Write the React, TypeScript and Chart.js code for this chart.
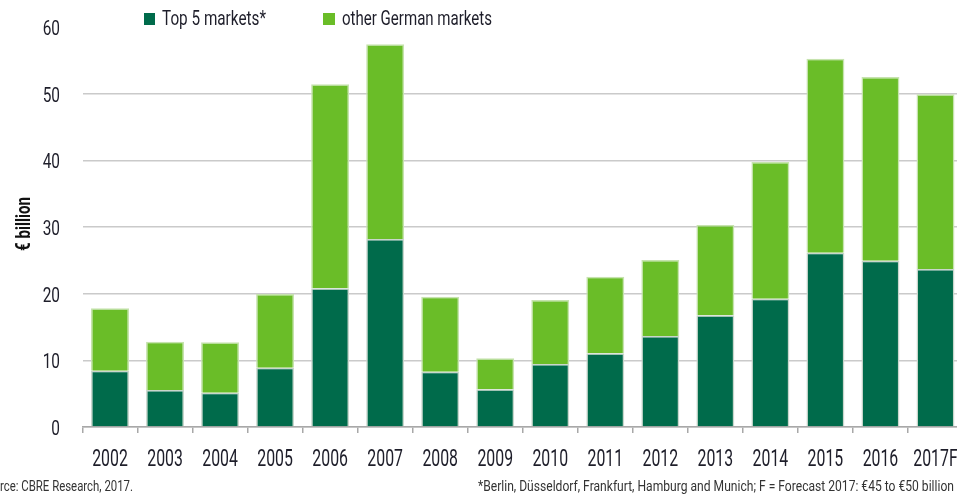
import React, { useEffect, useRef } from "react";
import { Chart, registerables } from "chart.js";

Chart.register(...registerables);

const categories = ["2002", "2003", "2004", "2005", "2006", "2007", "2008", "2009", "2010", "2011", "2012", "2013", "2014", "2015", "2016", "2017F"];
const top5Markets = [8.45, 5.55, 5.15, 8.9, 20.8, 28.2, 8.3, 5.65, 9.45, 11.05, 13.65, 16.75, 19.25, 26.15, 24.95, 23.7];
const otherGermanMarkets = [9.35, 7.25, 7.55, 11.05, 30.6, 29.2, 11.25, 4.65, 9.6, 11.5, 11.4, 13.55, 20.5, 29.1, 27.55, 26.2];
const yTicks = [0, 10, 20, 30, 40, 50, 60];
const seriesLabels = ["Top 5 markets*", "other German markets"];
const yTitle = "€ billion";
const sourceText = "Source: CBRE Research, 2017.";
const sourceVisible = "rce: CBRE Research, 2017.";
const footnoteText = "*Berlin, Düsseldorf, Frankfurt, Hamburg and Munich; F = Forecast 2017: €45 to €50 billion";

const FONT = "Roboto, 'DejaVu Sans', sans-serif";
const DARK = "#006b4b";
const LIGHT = "#6abd28";
const TEXT = "#1e1e2a";

function condensedText(ctx: any, text: string, x: number, y: number, factor: number) {
  const w = ctx.measureText(text).width;
  ctx.fillText(text, x, y, w * factor);
}

const decorPlugin = {
  id: "decor",
  afterDraw(chart: any) {
    const ctx = chart.ctx;
    const area = chart.chartArea;
    const xs = chart.scales.x;
    const ys = chart.scales.y;
    ctx.save();

    // x tick labels (condensed, placed by the category scale)
    ctx.font = `23px ${FONT}`;
    ctx.fillStyle = TEXT;
    ctx.textAlign = "center";
    ctx.textBaseline = "alphabetic";
    const xFactor = 35.6 / ctx.measureText("2002").width;
    xs.ticks.forEach((t: any, i: number) => {
      const label = String(xs.getLabelForValue(t.value));
      condensedText(ctx, label, xs.getPixelForTick(i), 466, xFactor);
    });

    // y tick labels (condensed, placed by the linear scale)
    ctx.font = `21px ${FONT}`;
    ctx.textAlign = "right";
    const yFactor = 17.3 / ctx.measureText("50").width;
    ys.ticks.forEach((t: any) => {
      condensedText(ctx, String(t.value), 60, ys.getPixelForValue(t.value) + 8, yFactor);
    });

    // legend
    ctx.textBaseline = "alphabetic";
    ctx.textAlign = "left";
    ctx.font = `20px ${FONT}`;
    ctx.fillStyle = DARK;
    ctx.fillRect(144, 13, 11, 12);
    ctx.fillStyle = TEXT;
    ctx.fillText(seriesLabels[0], 162, 25, 104);
    ctx.fillStyle = LIGHT;
    ctx.fillRect(323, 13, 12, 12);
    ctx.fillStyle = TEXT;
    ctx.fillText(seriesLabels[1], 342, 25, 150);

    // y title
    ctx.save();
    ctx.translate(30, (area.top + area.bottom) / 2 - 3);
    ctx.rotate(-Math.PI / 2);
    ctx.textAlign = "center";
    ctx.textBaseline = "alphabetic";
    ctx.font = `bold 20px ${FONT}`;
    ctx.fillStyle = "#111";
    ctx.fillText(yTitle, 0, 0, 54);
    ctx.restore();

    // footer
    ctx.font = `15px ${FONT}`;
    ctx.fillStyle = "#333";
    ctx.textBaseline = "alphabetic";
    ctx.textAlign = "right";
    const fFactor = 476 / ctx.measureText(footnoteText).width;
    condensedText(ctx, footnoteText, 954, 491, fFactor);
    const sFactor = 133 / ctx.measureText(sourceVisible).width;
    condensedText(ctx, sourceText, 133, 491, sFactor);
    ctx.restore();
  },
};

export default function App() {
  const ref = useRef<HTMLCanvasElement | null>(null);

  useEffect(() => {
    if (!ref.current) return;
    const chart = new Chart(ref.current, {
      type: "bar",
      data: {
        labels: categories,
        datasets: [
          {
            label: seriesLabels[0],
            data: top5Markets,
            backgroundColor: DARK,
            borderColor: "#c9d6cc",
            borderWidth: 1.5,
            barPercentage: 0.69,
            categoryPercentage: 1,
          },
          {
            label: seriesLabels[1],
            data: otherGermanMarkets,
            backgroundColor: LIGHT,
            borderColor: "#c6e3ae",
            borderWidth: 1.5,
            barPercentage: 0.69,
            categoryPercentage: 1,
          },
        ],
      },
      options: {
        animation: false,
        responsive: false,
        devicePixelRatio: 1,
        layout: { padding: { top: 27, left: 0, right: 0, bottom: 0 } },
        plugins: {
          legend: { display: false },
          tooltip: { enabled: false },
          title: { display: false },
        },
        scales: {
          x: {
            stacked: true,
            grid: {
              display: true,
              offset: true,
              drawOnChartArea: false,
              drawTicks: true,
              tickLength: 6,
              color: "#a8a8a8",
              lineWidth: 1.5,
            },
            border: { display: true, color: "#a8a8a8", width: 1.5 },
            ticks: { display: false, autoSkip: false, maxRotation: 0 },
            afterFit(scale: any) {
              scale.height = 70;
            },
          },
          y: {
            stacked: true,
            min: yTicks[0],
            max: yTicks[yTicks.length - 1],
            afterBuildTicks(scale: any) {
              scale.ticks = yTicks.map((v) => ({ value: v }));
            },
            grid: {
              drawTicks: false,
              lineWidth: 1.5,
              color: (c: any) => (c.tick && c.tick.value === 60 ? "rgba(0,0,0,0)" : "#cacaca"),
            },
            border: { display: false },
            ticks: { display: false },
            afterFit(scale: any) {
              scale.width = 82.5;
            },
          },
        },
      },
      plugins: [decorPlugin],
    });
    return () => chart.destroy();
  }, []);

  return (
    <div style={{ position: "fixed", left: 0, top: 0, width: 957, height: 497, overflow: "hidden", background: "#fff" }}>
      <canvas ref={ref} width={963} height={497} style={{ display: "block" }} />
    </div>
  );
}
